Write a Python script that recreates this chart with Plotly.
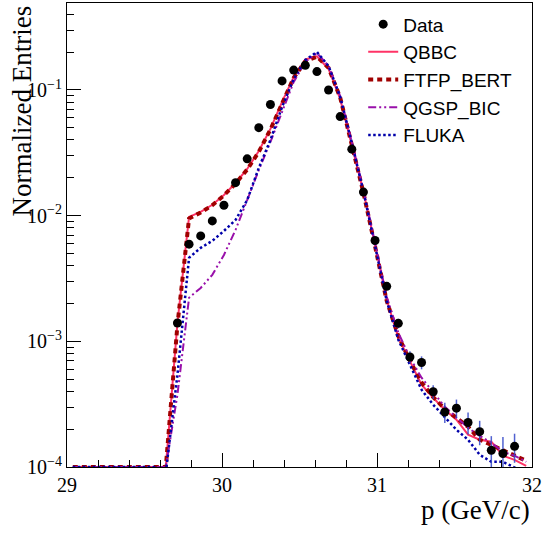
import plotly.graph_objects as go

# ---- data ----
bin_centers = [29.0375 + 0.075 * i for i in range(40)]

data_x = bin_centers[9:39]
data_y = [1.40e-3, 5.93e-3, 6.90e-3, 9.08e-3, 1.21e-2, 1.83e-2, 2.83e-2, 5.01e-2,
          7.67e-2, 0.118, 0.144, 0.157, 0.140, 0.100, 6.14e-2, 3.38e-2, 1.54e-2,
          6.34e-3, 2.74e-3, 1.39e-3, 7.50e-4, 6.79e-4, 3.97e-4, 2.74e-4, 2.94e-4,
          2.26e-4, 1.91e-4, 1.36e-4, 1.28e-4, 1.46e-4]
data_err = [0.8e-4, 2e-4, 2e-4, 2.5e-4, 3e-4, 4e-4, 5e-4, 7e-4,
            9e-4, 1e-3, 1.2e-3, 1.2e-3, 1.2e-3, 1e-3, 8e-4, 6e-4, 4e-4,
            2.5e-4, 1.7e-4, 1.2e-4, 0.85e-4, 0.8e-4, 0.5e-4, 0.5e-4, 0.5e-4,
            0.45e-4, 0.42e-4, 0.40e-4, 0.45e-4, 0.38e-4]

floor9 = [1e-4] * 9
qbbc = floor9 + [1.40e-3, 9.77e-3, 1.07e-2, 1.22e-2, 1.46e-2, 1.82e-2, 2.35e-2, 3.27e-2,
                 4.90e-2, 8.03e-2, 0.1269, 0.175, 0.185, 0.1468, 8.48e-2, 3.58e-2,
                 1.55e-2, 5.86e-3, 2.14e-3, 1.07e-3, 6.88e-4, 4.51e-4, 3.56e-4,
                 2.85e-4, 2.38e-4, 1.81e-4, 1.65e-4, 1.59e-4, 1.23e-4, 1.14e-4, 1.02e-4]
ftfp = floor9 + [1.35e-3, 9.5e-3, 1.06e-2, 1.21e-2, 1.45e-2, 1.80e-2, 2.33e-2, 3.22e-2,
                 4.85e-2, 7.9e-2, 0.125, 0.169, 0.184, 0.150, 8.7e-2, 3.65e-2,
                 1.52e-2, 5.7e-3, 2.1e-3, 1.1e-3, 7.0e-4, 4.7e-4, 3.6e-4,
                 2.9e-4, 2.47e-4, 2.09e-4, 1.65e-4, 1.5e-4, 1.35e-4, 1.25e-4, 1.12e-4]
qgsp = floor9 + [3.76e-4, 2.22e-3, 2.66e-3, 3.38e-3, 4.87e-3, 7.71e-3, 1.33e-2, 2.31e-2,
                 3.86e-2, 6.81e-2, 0.1157, 0.1669, 0.1968, 0.1551, 8.96e-2, 3.86e-2,
                 1.60e-2, 6.07e-3, 2.26e-3, 1.17e-3, 7.40e-4, 5.13e-4, 3.90e-4,
                 3.02e-4, 2.47e-4, 2.05e-4, 1.77e-4, 1.56e-4, 1.32e-4, 1.23e-4, 1.10e-4]
fluka = [1e-4] * 8 + [0.9e-4] + [5.42e-4, 4.62e-3, 5.54e-3, 6.30e-3, 7.56e-3, 9.25e-3, 1.33e-2,
                 2.40e-2, 4.00e-2, 7.32e-2, 0.1223, 0.1732, 0.2004, 0.1551, 8.80e-2,
                 3.79e-2, 1.55e-2, 5.75e-3, 2.10e-3, 1.03e-3, 6.51e-4, 4.12e-4,
                 3.13e-4, 2.47e-4, 1.98e-4, 1.65e-4, 1.25e-4, 1.10e-4, 1.10e-4,
                 0.99e-4, 0.95e-4]

y_major = [1e-4, 1e-3, 1e-2, 1e-1]
y_major_text = ["10<sup>\u22124</sup>", "10<sup>\u22123</sup>", "10<sup>\u22122</sup>", "10<sup>\u22121</sup>"]
y_minor = [m * 10 ** e for e in (-4, -3, -2, -1) for m in range(2, 10)]

fig = go.Figure()

fig.add_trace(go.Scatter(x=bin_centers, y=qbbc, mode="lines", name="QBBC",
                         line=dict(color="#ff3366", width=2), legendgroup="b", legendrank=2))
fig.add_trace(go.Scatter(x=bin_centers, y=ftfp, mode="lines", name="FTFP_BERT",
                         line=dict(color="#a00000", width=4, dash="5px,4px"),
                         legendgroup="c", legendrank=3))
fig.add_trace(go.Scatter(x=bin_centers, y=qgsp, mode="lines", name="QGSP_BIC",
                         line=dict(color="#9910aa", width=2, dash="8px,3px,2px,3px,2px,3px"),
                         legendgroup="d", legendrank=4))
fig.add_trace(go.Scatter(x=bin_centers, y=fluka, mode="lines", name="FLUKA",
                         line=dict(color="#0000aa", width=2.5, dash="2.5px,2.5px"),
                         legendgroup="e", legendrank=5))
fig.add_trace(go.Scatter(x=data_x, y=data_y, mode="markers", name="Data",
                         marker=dict(color="black", size=9),
                         error_y=dict(type="data", array=data_err, color="rgba(50,70,200,0.85)",
                                      thickness=1.5, width=0),
                         legendgroup="a", legendrank=1))

axis_font = dict(family="Liberation Serif", size=20, color="black")

fig.update_layout(
    width=543, height=533,
    margin=dict(l=67, r=11, t=3, b=66),
    paper_bgcolor="white", plot_bgcolor="white",
    showlegend=True,
    legend=dict(x=0.637, y=0.995, xanchor="left", yanchor="top",
                bgcolor="rgba(0,0,0,0)", borderwidth=0,
                font=dict(family="Liberation Sans", size=19, color="black"),
                tracegroupgap=0, itemwidth=30),
    xaxis=dict(range=[29, 32], showgrid=False, zeroline=False, automargin=False,
               showline=True, linecolor="black", linewidth=1, mirror=True,
               ticks="inside", ticklen=14, tickcolor="black", dtick=1, tick0=29,
               tickfont=axis_font,
               minor=dict(ticks="inside", ticklen=7, dtick=0.2, tickcolor="black", showgrid=False)),
    yaxis=dict(type="log", range=[-4, -0.308], showgrid=False, zeroline=False, automargin=False,
               showline=True, linecolor="black", linewidth=1, mirror=True,
               ticks="inside", ticklen=14, tickcolor="black",
               tickmode="array", tickvals=y_major, ticktext=y_major_text,
               tickfont=axis_font,
               minor=dict(ticks="inside", ticklen=7, tickvals=y_minor, tickcolor="black",
                          showgrid=False)),
    annotations=[
        dict(text="Normalized Entries", textangle=-90, xref="paper", yref="paper",
             x=-0.097, y=1.0, xanchor="center", yanchor="top", showarrow=False,
             font=dict(family="Liberation Serif", size=27, color="black")),
        dict(text="p (GeV/c)", xref="paper", yref="paper", x=1.0, y=-0.092,
             xanchor="right", yanchor="middle", showarrow=False,
             font=dict(family="Liberation Serif", size=27, color="black")),
    ],
)

fig.write_html("out.html", config={"displayModeBar": False},
               post_script="document.body.style.margin='0px';")
